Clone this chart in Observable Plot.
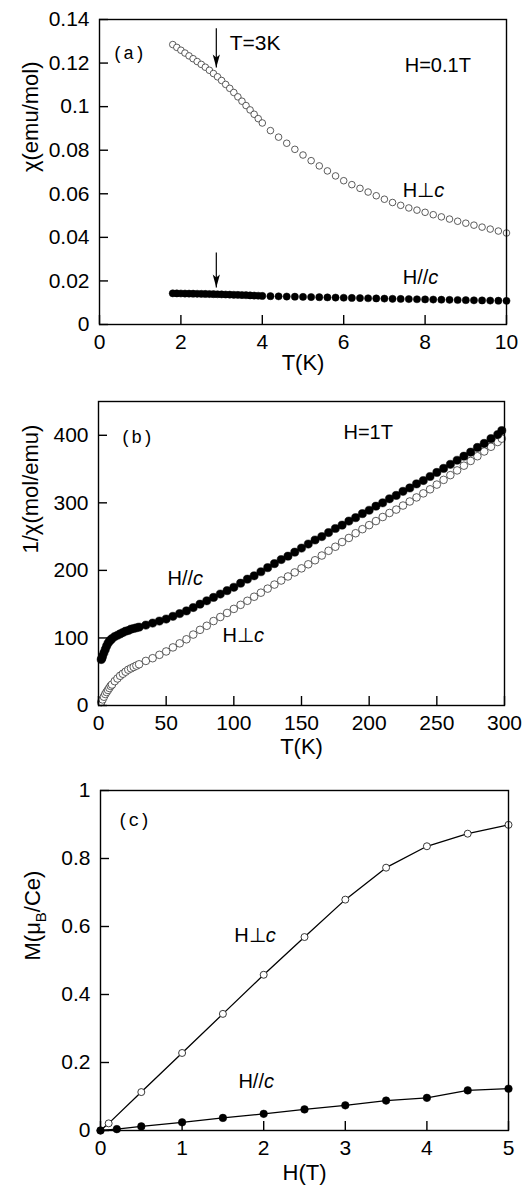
<!DOCTYPE html>
<html><head><meta charset="utf-8">
<script src="https://cdn.jsdelivr.net/npm/d3@7"></script>
<script src="https://cdn.jsdelivr.net/npm/@observablehq/plot@0.6"></script>
<style>
body{margin:0;background:#fff}
#chart{width:525px}
#chart svg{display:block}
</style>
</head><body><div id="chart"></div>
<script>
// ---------- Panel (a): chi vs T, H = 0.1 T ----------
const aPerpT = [1.8,1.9,2.0,2.1,2.2,2.3,2.4,2.5,2.6,2.7,2.8,2.9,3.0,3.1,3.2,3.3,3.4,3.5,3.6,3.7,3.8,3.9,4.0,
  4.2,4.4,4.6,4.8,5.0,5.2,5.4,5.6,5.8,6.0,6.2,6.4,6.6,6.8,7.0,7.2,7.4,7.6,7.8,8.0,8.2,8.4,8.6,8.8,9.0,9.2,9.4,9.6,9.8,10.0];
const aPerpChi = [0.1285,0.1272,0.1259,0.1246,0.1233,0.1220,0.1207,0.1194,0.1181,0.1167,0.1152,0.1137,0.1120,0.1102,0.1084,0.1065,0.1045,0.1025,0.1005,0.0985,0.0965,0.0945,0.0925,
  0.0890,0.0860,0.0832,0.0804,0.0778,0.0752,0.0728,0.0705,0.0682,0.0660,0.0642,0.0625,0.0608,0.0591,0.0575,0.0560,0.0547,0.0535,0.0525,0.0515,0.0504,0.0494,0.0484,0.0474,0.0465,0.0456,0.0447,0.0438,0.0429,0.0420];
const aParT = [1.8,1.9,2.0,2.1,2.2,2.3,2.4,2.5,2.6,2.7,2.8,2.9,3.0,3.1,3.2,3.3,3.4,3.5,3.6,3.7,3.8,3.9,4.0,
  4.2,4.4,4.6,4.8,5.0,5.2,5.4,5.6,5.8,6.0,6.2,6.4,6.6,6.8,7.0,7.2,7.4,7.6,7.8,8.0,8.2,8.4,8.6,8.8,9.0,9.2,9.4,9.6,9.8,10.0];
const aParChi = [0.0143,0.01427,0.01424,0.0142,0.01417,0.01414,0.0141,0.01406,0.01402,0.01398,0.01394,0.01388,0.01382,0.01376,0.0137,0.01364,0.01358,0.01352,0.01344,0.01336,0.01328,0.0132,0.01312,
  0.0130,0.01292,0.01284,0.01276,0.01268,0.0126,0.01252,0.01244,0.01236,0.01228,0.0122,0.01212,0.01204,0.01196,0.01188,0.0118,0.01173,0.01166,0.01159,0.01152,0.01145,0.01138,0.01131,0.01124,0.01117,0.0111,0.01104,0.01098,0.01092,0.01086];
const aArrowT = [2.87, 2.87];
const aArrowFrom = [0.136, 0.033];
const aArrowTip = [0.118, 0.017];
const aXTicks = [0,2,4,6,8,10];
const aYTicks = [0,0.02,0.04,0.06,0.08,0.1,0.12,0.14];

// ---------- Panel (b): 1/chi vs T, H = 1 T ----------
const bParT = [2,2.5,3,4,5,6,7,8,9,10,12,14,16,18,20,22,24,26,28,30,35,40,45,50,55,60,65,70,75,80,85,90,95,100,
  105,110,115,120,125,130,135,140,145,150,155,160,165,170,175,180,185,190,195,200,205,210,215,220,225,230,235,240,245,250,
  255,260,265,270,275,280,285,290,295,298];
const bParInv = [68,70,73,78,83,88,92,95,97,99,102,104,106,108,110,111,113,114,115,116,119,122,125,128,132,136,140,145,150,155,160,165,170,175,
  181,187,192,198,204,210,216,221,227,233,239,245,250,256,262,267,273,278,284,289,295,300,306,311,317,322,328,333,339,345,
  351,357,363,369,375,382,388,395,401,407];
const bPerpT = [2,3,4,5,6,7,8,9,10,12,14,16,18,20,22,24,26,28,30,35,40,45,50,55,60,65,70,75,80,85,90,95,100,
  105,110,115,120,125,130,135,140,145,150,155,160,165,170,175,180,185,190,195,200,205,210,215,220,225,230,235,240,245,250,
  255,260,265,270,275,280,285,290,295,298];
const bPerpInv = [5,9,13,17,20,23,26,29,31,36,40,44,47,50,53,55,57,59,61,66,70,75,80,86,92,98,105,112,118,125,131,137,143,
  149,155,161,167,173,179,185,191,197,203,209,215,222,229,235,242,248,255,261,267,273,279,285,290,296,302,308,314,320,327,
  334,341,348,355,362,369,376,383,390,395];
const bXTicks = [0,50,100,150,200,250,300];
const bYTicks = [0,100,200,300,400];

// ---------- Panel (c): M vs H ----------
const cPerpH = [0,0.1,0.5,1,1.5,2,2.5,3,3.5,4,4.5,5];
const cPerpM = [0,0.021,0.113,0.228,0.343,0.458,0.569,0.679,0.773,0.836,0.873,0.899];
const cParH = [0,0.2,0.5,1,1.5,2,2.5,3,3.5,4,4.5,5];
const cParM = [0,0.004,0.012,0.024,0.037,0.049,0.062,0.074,0.088,0.096,0.118,0.123];
const cXTicks = [0,1,2,3,4,5];
const cYTicks = [0,0.2,0.4,0.6,0.8,1];

const SANS = "'Liberation Sans', Arial, Helvetica, sans-serif";
const MONO = "'Liberation Mono', 'Courier New', monospace";
const TICK_FS = 21, TITLE_FS = 22, ANN_FS = 20, TAG_FS = 18;
const TICK_LEN = 9;
const fmt = d3.format("~g");
const pts = (xs, ys) => xs.map((x, i) => ({x, y: ys[i]}));

const arrowHead = {draw(ctx) {
  ctx.moveTo(0, 0); ctx.lineTo(-3.6, -13); ctx.lineTo(0, -10); ctx.lineTo(3.6, -13); ctx.closePath();
}};

function panel({height, marginTop, marginBottom, marginLeft, marginRight, xDomain, yDomain, xTicks, yTicks,
                xTitle, yTitle, xTitleDy, yTitleDx, marks}) {
  return Plot.plot({
    width: 525, height, marginTop, marginBottom, marginLeft, marginRight,
    style: {fontFamily: SANS, color: "black", background: "white", overflow: "visible"},
    x: {domain: xDomain}, y: {domain: yDomain},
    marks: [
      ...marks,
      Plot.frame({stroke: "black", strokeWidth: 1.4}),
      // tick marks: standard outward axis ticks, shifted inside the frame by their own length
      Plot.axisX({ticks: xTicks, tickSize: TICK_LEN, dy: -TICK_LEN, tickFormat: () => "", label: null, stroke: "black", strokeWidth: 1.4}),
      Plot.axisY({ticks: yTicks, tickSize: TICK_LEN, dx: TICK_LEN, tickFormat: () => "", label: null, stroke: "black", strokeWidth: 1.4}),
      // tick labels
      Plot.axisX({ticks: xTicks, tickSize: 0, tickPadding: 10, tickFormat: fmt, fontSize: TICK_FS, label: null}),
      Plot.axisY({ticks: yTicks, tickSize: 0, tickPadding: 10, tickFormat: fmt, fontSize: TICK_FS, label: null}),
      Plot.text([xTitle], {frameAnchor: "bottom", dy: xTitleDy, fontSize: TITLE_FS}),
      Plot.text([yTitle], {frameAnchor: "left", dx: yTitleDx, rotate: -90, fontSize: TITLE_FS})
    ]
  });
}

const txt = (s, x, y, opts = {}) => Plot.text([s], {x: () => x, y: () => y, textAnchor: "start", fontSize: ANN_FS, ...opts});

const chartA = panel({
  height: 382, marginTop: 19, marginBottom: 58, marginLeft: 99, marginRight: 19,
  xDomain: [0, 10], yDomain: [0, 0.14], xTicks: aXTicks, yTicks: aYTicks,
  xTitle: "T(K)", yTitle: "χ(emu/mol)", xTitleDy: 45, yTitleDx: -69,
  marks: [
    Plot.dot(pts(aPerpT, aPerpChi), {x: "x", y: "y", r: 3.3, fill: "white", stroke: "#333", strokeWidth: 0.8}),
    Plot.dot(pts(aParT, aParChi), {x: "x", y: "y", r: 3.6, fill: "black", stroke: "black", strokeWidth: 0.5}),
    Plot.link(aArrowT.map((t, i) => i), {x1: i => aArrowT[i], x2: i => aArrowT[i], y1: i => aArrowFrom[i], y2: i => aArrowTip[i], stroke: "black", strokeWidth: 1.2}),
    Plot.dot(aArrowT.map((t, i) => i), {x: i => aArrowT[i], y: i => aArrowTip[i], symbol: arrowHead, fill: "black", stroke: "none"}),
    txt("(a)", 0.32, 0.1246, {fontFamily: MONO, fontSize: TAG_FS}),
    txt("T=3K", 3.2, 0.129, {fontSize: 21}),
    txt("H=0.1T", 7.5, 0.119),
    txt("H⊥c", 7.45, 0.0616),
    txt("H//c", 7.45, 0.0216)
  ]
});

const chartB = panel({
  height: 382, marginTop: 19, marginBottom: 59, marginLeft: 98, marginRight: 21,
  xDomain: [0, 300], yDomain: [0, 450], xTicks: bXTicks, yTicks: bYTicks,
  xTitle: "T(K)", yTitle: "1/χ(mol/emu)", xTitleDy: 48, yTitleDx: -68,
  marks: [
    Plot.dot(pts(bPerpT, bPerpInv), {x: "x", y: "y", r: 3.8, fill: "white", stroke: "#333", strokeWidth: 0.8}),
    Plot.dot(pts(bParT, bParInv), {x: "x", y: "y", r: 4.1, fill: "black", stroke: "black", strokeWidth: 0.5}),
    txt("(b)", 16.3, 397, {fontFamily: MONO, fontSize: TAG_FS}),
    txt("H=1T", 181, 404),
    txt("H//c", 51, 188),
    txt("H⊥c", 91.6, 103)
  ]
});

const chartC = panel({
  height: 430, marginTop: 26, marginBottom: 64, marginLeft: 100, marginRight: 17,
  xDomain: [0, 5], yDomain: [0, 1], xTicks: cXTicks, yTicks: cYTicks,
  xTitle: "H(T)", yTitle: "M(μB/Ce)", xTitleDy: 49, yTitleDx: -68,
  marks: [
    Plot.line(pts(cPerpH, cPerpM), {x: "x", y: "y", stroke: "black", strokeWidth: 1.3}),
    Plot.line(pts(cParH, cParM), {x: "x", y: "y", stroke: "black", strokeWidth: 1.3}),
    Plot.dot(pts(cPerpH, cPerpM), {x: "x", y: "y", r: 3.5, fill: "white", stroke: "#222", strokeWidth: 0.9}),
    Plot.dot(pts(cParH, cParM), {x: "x", y: "y", r: 3.8, fill: "black", stroke: "black", strokeWidth: 0.5}),
    txt("(c)", 0.21, 0.912, {fontFamily: MONO, fontSize: TAG_FS}),
    txt("H⊥c", 1.64, 0.574),
    txt("H//c", 1.69, 0.144)
  ]
});

const root = document.getElementById("chart");
for (const c of [chartA, chartB, chartC]) {
  root.appendChild(c);
  c.querySelectorAll("text").forEach(t => {
    const s = t.textContent;
    if (s === "H⊥c" || s === "H//c") {
      t.textContent = s.slice(0, -1);
      const ts = document.createElementNS("http://www.w3.org/2000/svg", "tspan");
      ts.setAttribute("font-style", "italic");
      ts.textContent = "c";
      t.appendChild(ts);
    } else if (s === "M(μB/Ce)") {
      t.textContent = "M(μ";
      const sub = document.createElementNS("http://www.w3.org/2000/svg", "tspan");
      sub.setAttribute("font-size", "15");
      sub.setAttribute("dy", "6");
      sub.textContent = "B";
      const rest = document.createElementNS("http://www.w3.org/2000/svg", "tspan");
      rest.setAttribute("dy", "-6");
      rest.textContent = "/Ce)";
      t.appendChild(sub); t.appendChild(rest);
    }
  });
}
</script></body></html>
